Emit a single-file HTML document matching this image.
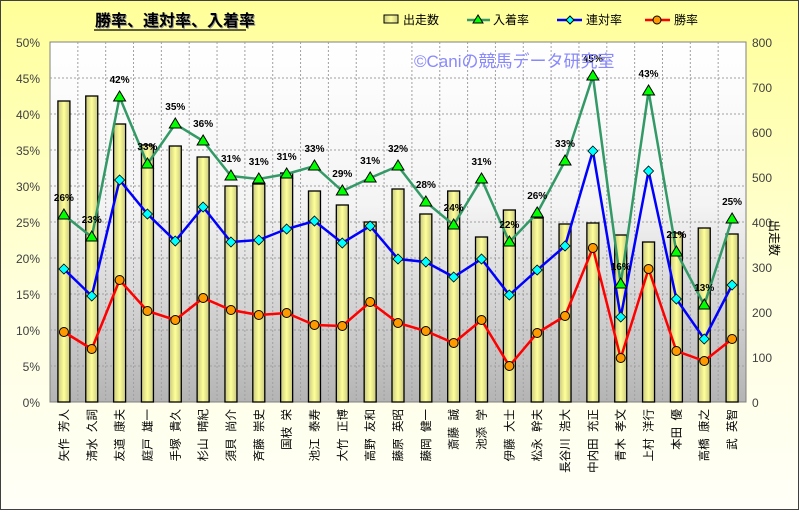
<!DOCTYPE html>
<html><head><meta charset="utf-8"><style>
body{margin:0;width:799px;height:510px;overflow:hidden;font-family:"Liberation Sans","Noto Sans CJK JP",sans-serif}
</style></head><body>
<svg id="s" width="799" height="510" xmlns="http://www.w3.org/2000/svg" font-family="Liberation Sans, Noto Sans CJK JP, sans-serif">
<defs>
<linearGradient id="bg" x1="0" y1="0" x2="0" y2="1"><stop offset="0" stop-color="#ffff99"/><stop offset="0.6" stop-color="#ffffe0"/><stop offset="1" stop-color="#fffff8"/></linearGradient>
<linearGradient id="pa" x1="0" y1="0" x2="0" y2="1"><stop offset="0" stop-color="#ffffff"/><stop offset="0.45" stop-color="#f4f4f4"/><stop offset="1" stop-color="#b4b4b4"/></linearGradient>
<linearGradient id="bar" x1="0" y1="0" x2="1" y2="0"><stop offset="0" stop-color="#c8c880"/><stop offset="0.5" stop-color="#ffff99"/><stop offset="1" stop-color="#c8c880"/></linearGradient>
</defs>
<rect x="0.5" y="0.5" width="798" height="509" fill="url(#bg)" stroke="#404040"/>
<rect x="50" y="42" width="696" height="360" fill="url(#pa)" stroke="#808080"/>
<g id="g"></g>
</svg>
<script>
const g=document.getElementById('g');let h='';
const L=50,T=42,B=402,R=746,W=(R-L)/25;
for(let i=1;i<10;i++){const y=B-i*36;h+=`<line x1="${L}" y1="${y}" x2="${R}" y2="${y}" stroke="#a0a0a0" stroke-dasharray="2,2"/>`;}
for(let i=1;i<25;i++){const x=L+i*W;h+=`<line x1="${x}" y1="${T}" x2="${x}" y2="${B}" stroke="#a0a0a0" stroke-dasharray="2,2"/>`;}
for(let i=0;i<=10;i++){const y=B-i*36;h+=`<text x="40" y="${y+5}" font-size="12" fill="#404040" text-anchor="end">${i*5}%</text>`;}
for(let i=0;i<=8;i++){const y=B-i*45;h+=`<text x="752" y="${y+5}" font-size="12" fill="#404040">${i*100}</text>`;}
const bars=[101,96,124,145,146,157,186,184,173,191,205,222,189,214,191,237,210,218,224,223,235,242,233,228,234];
const gr=[215,237,97,164,124,141,176,179,174,166,191,178,166,202,225,179,242,213,161,76,284,91,252,305,219];
const bl=[269,296,180,214,241,207,242,240,229,221,243,226,259,262,277,259,295,270,246,151,317,171,299,339,285];
const rd=[332,349,280,311,320,298,310,315,313,325,326,302,323,331,343,320,366,333,316,248,358,269,351,361,339];
const lb=[26,23,42,33,35,36,31,31,31,33,29,31,32,28,24,31,22,26,33,45,16,43,21,13,25];
const nm=["矢作 芳人","清水 久詞","友道 康夫","庭戸 雄一","手塚 貴久","杉山 晴紀","須貝 尚介","斉藤 崇史","国枝 栄","池江 泰寿","大竹 正博","高野 友和","藤原 英昭","藤岡 健一","斎藤 誠","池添 学","伊藤 大士","松永 幹夫","長谷川 浩大","中内田 充正","青木 孝文","上村 洋行","本田 優","高橋 康之","武 英智"];
const cx=i=>L+W*(i+0.5);
bars.forEach((y,i)=>{h+=`<rect x="${cx(i)-6}" y="${y}" width="12" height="${B-y}" fill="url(#bar)" stroke="#000" stroke-width="1.3"/>`;});
const pl=(a,c)=>`<polyline fill="none" stroke="${c}" stroke-width="2.5" points="${a.map((y,i)=>cx(i)+','+y).join(' ')}"/>`;
h+=pl(gr,'#339966')+pl(bl,'#0000ff')+pl(rd,'#ff0000');
gr.forEach((y,i)=>{const x=cx(i);h+=`<polygon points="${x},${y-6} ${x-6},${y+4} ${x+6},${y+4}" fill="#00ff00" stroke="#000"/>`;
h+=`<text x="${x}" y="${y-14}" font-size="10" font-weight="bold" text-anchor="middle" fill="#000">${lb[i]}%</text>`;});
bl.forEach((y,i)=>{const x=cx(i);h+=`<polygon points="${x},${y-5} ${x+5},${y} ${x},${y+5} ${x-5},${y}" fill="#00ffff" stroke="#000" stroke-width=".8"/>`;});
rd.forEach((y,i)=>{const x=cx(i);h+=`<circle cx="${x}" cy="${y}" r="4.5" fill="#ff9900" stroke="#000"/>`;});
nm.forEach((n,i)=>{const x=cx(i)+4;h+=`<text transform="translate(${x},409) rotate(-90)" font-size="11.5" text-anchor="end" fill="#000" style="white-space:pre">${n.replace(' ','  ')}</text>`;});
h+=`<text x="96" y="27" font-size="16" font-weight="bold" fill="#999">勝率、連対率、入着率</text><text x="95" y="26" font-size="16" font-weight="bold" fill="#000">勝率、連対率、入着率</text><line x1="94" y1="30" x2="246" y2="30" stroke="#000" stroke-width="1.2"/>`;
h+=`<rect x="384" y="15" width="14" height="8" fill="url(#bar)" stroke="#000"/><text x="403" y="24" font-size="12">出走数</text>`;
h+=`<line x1="467" y1="20" x2="490" y2="20" stroke="#339966" stroke-width="2.5"/><polygon points="478,15 473,23 483,23" fill="#00ff00" stroke="#000"/><text x="493" y="24" font-size="12">入着率</text>`;
h+=`<line x1="557" y1="20" x2="582" y2="20" stroke="#0000ff" stroke-width="2.5"/><polygon points="570,16 574,20 570,24 566,20" fill="#00ffff" stroke="#000"/><text x="586" y="24" font-size="12">連対率</text>`;
h+=`<line x1="645" y1="20" x2="670" y2="20" stroke="#ff0000" stroke-width="2.5"/><circle cx="657" cy="20" r="4" fill="#ff9900" stroke="#000"/><text x="674" y="24" font-size="12">勝率</text>`;
h+=`<text x="414" y="67" font-size="17" fill="#8888ff">©Caniの競馬データ研究室</text>`;
h+=`<text transform="translate(770,220) rotate(90)" font-size="12" fill="#000">出走数</text>`;
g.innerHTML=h;
</script>
</body></html>
